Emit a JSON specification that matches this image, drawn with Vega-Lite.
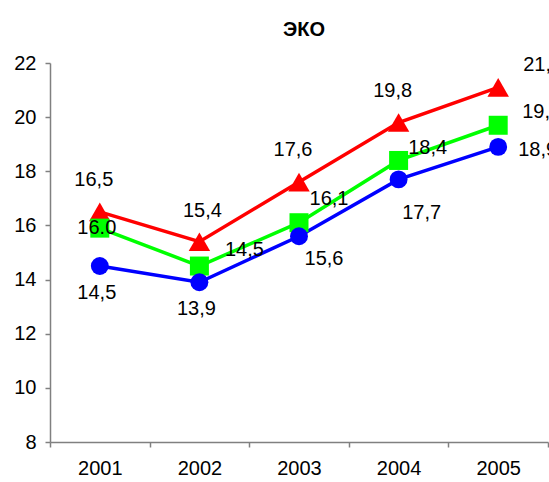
{
  "$schema": "https://vega.github.io/schema/vega-lite/v6.json",
  "width": 498,
  "height": 379,
  "autosize": {"type": "none"},
  "padding": {"left": 50, "top": 63, "right": 1, "bottom": 40},
  "background": "white",
  "title": {"text": "ЭКО", "font": "Liberation Sans", "fontSize": 20, "fontWeight": "bold", "color": "#000000", "offset": 13, "dx": 5},
  "config": {"view": {"stroke": null}, "font": "Liberation Sans"},
  "data": {
    "values": [
      {"year": "2001", "series": "red", "value": 16.5, "label": "16,5"},
      {"year": "2002", "series": "red", "value": 15.4, "label": "15,4"},
      {"year": "2003", "series": "red", "value": 17.6, "label": "17,6"},
      {"year": "2004", "series": "red", "value": 19.8, "label": "19,8"},
      {"year": "2005", "series": "red", "value": 21.1, "label": "21,1"},
      {"year": "2001", "series": "green", "value": 15.9, "label": "16.0"},
      {"year": "2002", "series": "green", "value": 14.5, "label": "14,5"},
      {"year": "2003", "series": "green", "value": 16.1, "label": "16,1"},
      {"year": "2004", "series": "green", "value": 18.4, "label": "18,4"},
      {"year": "2005", "series": "green", "value": 19.7, "label": "19,7"},
      {"year": "2001", "series": "blue", "value": 14.5, "label": "14,5"},
      {"year": "2002", "series": "blue", "value": 13.9, "label": "13,9"},
      {"year": "2003", "series": "blue", "value": 15.6, "label": "15,6"},
      {"year": "2004", "series": "blue", "value": 17.7, "label": "17,7"},
      {"year": "2005", "series": "blue", "value": 18.9, "label": "18,9"}
    ]
  },
  "encoding": {
    "x": {
      "field": "year", "type": "ordinal",
      "scale": {"type": "band", "paddingInner": 0, "paddingOuter": 0},
      "axis": {"title": null, "labelAngle": 0, "labelFontSize": 20, "labelColor": "#000000", "labelPadding": 11,
               "tickBand": "extent", "tickSize": 5, "tickColor": "#808080", "domainColor": "#808080", "domainWidth": 1.5, "tickWidth": 1.5, "grid": false}
    },
    "y": {
      "field": "value", "type": "quantitative",
      "scale": {"domain": [8, 22], "nice": false, "zero": false},
      "axis": {"title": null, "values": [8, 10, 12, 14, 16, 18, 20, 22], "labelFontSize": 20, "labelColor": "#000000", "labelPadding": 9,
               "tickSize": 5, "tickColor": "#808080", "domainColor": "#808080", "domainWidth": 1.5, "tickWidth": 1.5, "grid": false}
    },
    "color": {"field": "series", "type": "nominal", "scale": {"domain": ["red", "green", "blue"], "range": ["#FF0000", "#00FF00", "#0000FF"]}, "legend": null}
  },
  "layer": [
    {"mark": {"type": "line", "strokeWidth": 3.5}},
    {"transform": [{"filter": "datum.series == 'red'"}], "mark": {"type": "point", "shape": "triangle-up", "size": 460, "filled": true, "opacity": 1}},
    {"transform": [{"filter": "datum.series == 'green'"}], "mark": {"type": "point", "shape": "square", "size": 361, "filled": true, "opacity": 1}},
    {"transform": [{"filter": "datum.series == 'blue'"}], "mark": {"type": "point", "shape": "circle", "size": 320, "filled": true, "opacity": 1}},
    {"transform": [{"filter": "datum.series == 'red' && datum.year != '2005' && datum.year != '2002'"}], "mark": {"type": "text", "fontSize": 20, "dx": -6, "dy": -32, "baseline": "middle"}, "encoding": {"text": {"field": "label"}, "color": {"value": "#000000"}}},
    {"transform": [{"filter": "datum.series == 'red' && datum.year == '2002'"}], "mark": {"type": "text", "fontSize": 20, "dx": 3, "dy": -31, "baseline": "middle"}, "encoding": {"text": {"field": "label"}, "color": {"value": "#000000"}}},
    {"transform": [{"filter": "datum.series == 'red' && datum.year == '2005'"}], "mark": {"type": "text", "fontSize": 20, "align": "left", "dx": 25, "dy": -22, "baseline": "middle"}, "encoding": {"text": {"field": "label"}, "color": {"value": "#000000"}}},
    {"transform": [{"filter": "datum.series == 'green' && datum.year == '2001'"}], "mark": {"type": "text", "fontSize": 20, "dx": -3, "dy": 0, "baseline": "middle"}, "encoding": {"text": {"field": "label"}, "color": {"value": "#000000"}}},
    {"transform": [{"filter": "datum.series == 'green' && datum.year == '2002'"}], "mark": {"type": "text", "fontSize": 20, "dx": 45, "dy": -16, "baseline": "middle"}, "encoding": {"text": {"field": "label"}, "color": {"value": "#000000"}}},
    {"transform": [{"filter": "datum.series == 'green' && datum.year == '2003'"}], "mark": {"type": "text", "fontSize": 20, "dx": 30, "dy": -24, "baseline": "middle"}, "encoding": {"text": {"field": "label"}, "color": {"value": "#000000"}}},
    {"transform": [{"filter": "datum.series == 'green' && datum.year == '2004'"}], "mark": {"type": "text", "fontSize": 20, "dx": 29, "dy": -12, "baseline": "middle"}, "encoding": {"text": {"field": "label"}, "color": {"value": "#000000"}}},
    {"transform": [{"filter": "datum.series == 'green' && datum.year == '2005'"}], "mark": {"type": "text", "fontSize": 20, "align": "left", "dx": 24, "dy": -13, "baseline": "middle"}, "encoding": {"text": {"field": "label"}, "color": {"value": "#000000"}}},
    {"transform": [{"filter": "datum.series == 'blue' && (datum.year == '2001' || datum.year == '2002')"}], "mark": {"type": "text", "fontSize": 20, "dx": -3, "dy": 27, "baseline": "middle"}, "encoding": {"text": {"field": "label"}, "color": {"value": "#000000"}}},
    {"transform": [{"filter": "datum.series == 'blue' && datum.year == '2003'"}], "mark": {"type": "text", "fontSize": 20, "dx": 25, "dy": 23, "baseline": "middle"}, "encoding": {"text": {"field": "label"}, "color": {"value": "#000000"}}},
    {"transform": [{"filter": "datum.series == 'blue' && datum.year == '2004'"}], "mark": {"type": "text", "fontSize": 20, "dx": 23, "dy": 34, "baseline": "middle"}, "encoding": {"text": {"field": "label"}, "color": {"value": "#000000"}}},
    {"transform": [{"filter": "datum.series == 'blue' && datum.year == '2005'"}], "mark": {"type": "text", "fontSize": 20, "align": "left", "dx": 20, "dy": 3, "baseline": "middle"}, "encoding": {"text": {"field": "label"}, "color": {"value": "#000000"}}}
  ]
}
